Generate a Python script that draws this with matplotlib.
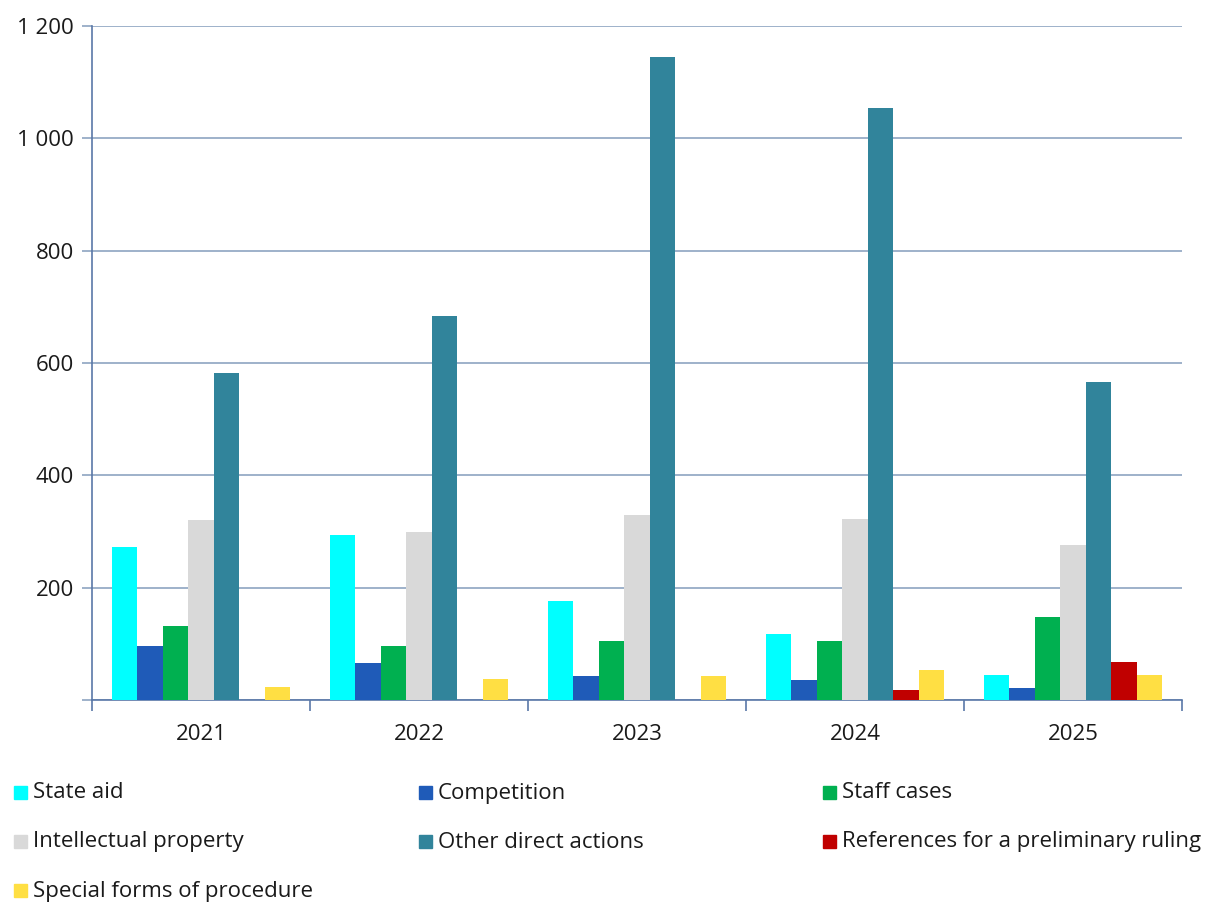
import matplotlib
matplotlib.use("Agg")
import matplotlib.pyplot as plt
from matplotlib.patches import Rectangle
from matplotlib.ticker import FuncFormatter, FixedLocator
import numpy as np

plt.rcParams['font.family'] = ['Open Sans', 'DejaVu Sans']

years = ["2021", "2022", "2023", "2024", "2025"]
series_names = ["State aid", "Competition", "Staff cases", "Intellectual property",
                "Other direct actions", "References for a preliminary ruling",
                "Special forms of procedure"]
state_aid = [272, 293, 176, 117, 45]
competition = [96, 65, 43, 36, 21]
staff_cases = [132, 96, 105, 105, 147]
intellectual_property = [320, 299, 330, 322, 276]
other_direct_actions = [582, 684, 1145, 1054, 566]
references_preliminary = [0, 0, 0, 18, 67]
special_forms = [23, 37, 42, 53, 45]

series_values = [state_aid, competition, staff_cases, intellectual_property,
                 other_direct_actions, references_preliminary, special_forms]
colors = ["#00FFFF", "#1F5BB8", "#00B050", "#D9D9D9", "#31849B", "#C00000", "#FFDF43"]

fig = plt.figure(figsize=(12.08, 9.02), dpi=100)
W, H = 1208, 902
ax = fig.add_axes([92 / W, 1 - 700 / H, (1182 - 92) / W, (700 - 26) / H])

x = np.arange(len(years))
w = 0.117
for i, (vals, c) in enumerate(zip(series_values, colors)):
    ax.bar(x + (i - 3) * w, vals, width=w, color=c, zorder=3, linewidth=0)

ax.set_xlim(-0.5, len(years) - 0.5)
ax.set_ylim(0, 1200)
ax.set_yticks(range(0, 1201, 200))
ax.yaxis.set_major_formatter(
    FuncFormatter(lambda v, p: "" if v == 0 else f"{int(v):,}".replace(",", " ")))
grid_c = "#8EA4C1"
ax.yaxis.grid(True, color=grid_c, linewidth=1.2, zorder=0)
ax.tick_params(axis='y', length=7, width=1.2, color=grid_c, labelsize=16, pad=6,
               labelcolor="#1a1a1a")

ax.set_xticks(x)
ax.set_xticklabels(years)
ax.xaxis.set_minor_locator(FixedLocator(np.arange(-0.5, len(years), 1.0)))
ax.tick_params(axis='x', which='major', length=0, labelsize=16, pad=17, labelcolor="#1a1a1a")
ax.tick_params(axis='x', which='minor', length=8, width=1.2, color="#5A78A8")

for s in ['top', 'right']:
    ax.spines[s].set_visible(False)
ax.spines['left'].set_color("#5A78A8")
ax.spines['bottom'].set_color("#5A78A8")
ax.spines['left'].set_linewidth(1.2)
ax.spines['bottom'].set_linewidth(1.2)

# legend (manual, 3 columns)
col_x = [14, 419, 823]
row_y = [792, 841, 890]
sq = 13
for i, (name, c) in enumerate(zip(series_names, colors)):
    cx = col_x[i % 3]
    cy = row_y[i // 3]
    fig.patches.append(Rectangle((cx / W, 1 - (cy + sq / 2) / H), sq / W, sq / H,
                                 transform=fig.transFigure, color=c, figure=fig))
    fig.text((cx + sq + 6) / W, 1 - (cy + 1) / H, name, fontsize=16, va='center', ha='left',
             color="#1a1a1a")

fig.savefig("out.png", dpi=100)
